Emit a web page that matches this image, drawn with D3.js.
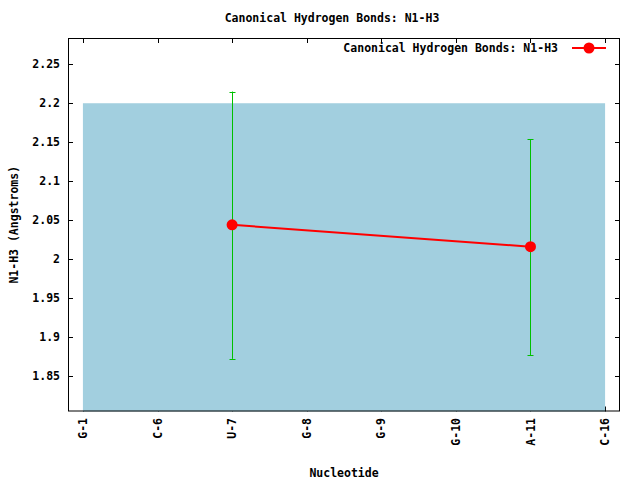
<!DOCTYPE html>
<html>
<head>
<meta charset="utf-8">
<script src="https://cdn.jsdelivr.net/npm/d3@7"></script>
<style>
  html, body { margin: 0; padding: 0; background: #fff; }
  svg text { font-family: "DejaVu Sans Mono", "Liberation Mono", monospace; font-weight: bold; font-size: 11.5px; fill: #000; }
</style>
</head>
<body>
<svg id="chart" width="640" height="480"></svg>
<script>
// ---- data ----
const categories = ["G-1", "C-6", "U-7", "G-8", "G-9", "G-10", "A-11", "C-16"];
const pointCategories = ["U-7", "A-11"];
const pointValues = [2.044, 2.016];
const errLow = [1.872, 1.877];
const errHigh = [2.215, 2.154];
const yTicks = [1.85, 1.9, 1.95, 2.0, 2.05, 2.1, 2.15, 2.2, 2.25];
const yTickLabels = ["1.85", "1.9", "1.95", "2", "2.05", "2.1", "2.15", "2.2", "2.25"];
const bandTop = 2.2;
const titleText = "Canonical Hydrogen Bonds: N1-H3";
const seriesName = "Canonical Hydrogen Bonds: N1-H3";
const xTitle = "Nucleotide";
const yTitle = "N1-H3 (Angstroms)";

// ---- layout ----
const L = 68, R = 620, T = 38, B = 411.5;
const svg = d3.select("#chart");

const x = d3.scaleLinear().domain([-0.2, categories.length - 1 + 0.2]).range([L, R]);
const y = d3.scaleLinear().domain([1.8045, 2.2837]).range([B, T]);
const xi = c => x(categories.indexOf(c));

// ticks (drawn first, band covers bottom ones)
const tickLen = 5;
const tk = svg.append("g").attr("stroke", "#000").attr("stroke-width", 1);
categories.forEach((c, i) => {
  const px = Math.round(x(i)) + 0.5;
  tk.append("line").attr("x1", px).attr("x2", px).attr("y1", B).attr("y2", B - tickLen);
  tk.append("line").attr("x1", px).attr("x2", px).attr("y1", T).attr("y2", T + tickLen);
});
yTicks.forEach(v => {
  const py = Math.round(y(v)) + 0.5;
  tk.append("line").attr("x1", L).attr("x2", L + tickLen).attr("y1", py).attr("y2", py);
  tk.append("line").attr("x1", R).attr("x2", R - tickLen).attr("y1", py).attr("y2", py);
});

// light-blue band
svg.append("rect")
  .attr("x", x(0)).attr("y", y(bandTop))
  .attr("width", x(categories.length - 1) - x(0))
  .attr("height", B - y(bandTop))
  .attr("fill", "#a2cfdf");

// frame
svg.append("rect").attr("x", L + 0.5).attr("y", T + 0.5)
  .attr("width", R - L - 1).attr("height", B - T - 1)
  .attr("fill", "none").attr("stroke", "#000").attr("stroke-width", 1);

// y tick labels
svg.append("g").selectAll("text").data(yTicks).join("text")
  .attr("x", 60).attr("y", v => y(v)).attr("dy", "0.35em")
  .attr("text-anchor", "end")
  .text((v, i) => yTickLabels[i]);

// x tick labels (rotated)
svg.append("g").selectAll("text").data(categories).join("text")
  .attr("transform", (c, i) => `translate(${x(i)},418) rotate(-90)`)
  .attr("dy", "0.35em")
  .attr("text-anchor", "end")
  .text(c => c);

// titles
svg.append("text").attr("x", 332).attr("y", 18).attr("dy", "0.35em")
  .attr("text-anchor", "middle").text(titleText);
svg.append("text").attr("x", (L + R) / 2).attr("y", 473).attr("dy", "0.35em")
  .attr("text-anchor", "middle").text(xTitle);
svg.append("text").attr("transform", `translate(14,${(T + B) / 2}) rotate(-90)`)
  .attr("dy", "0.35em").attr("text-anchor", "middle").text(yTitle);

// error bars
const eb = svg.append("g").attr("stroke", "#00c000").attr("stroke-width", 1);
pointCategories.forEach((c, i) => {
  const px = Math.round(xi(c)) + 0.5;
  eb.append("line").attr("x1", px).attr("x2", px).attr("y1", y(errLow[i])).attr("y2", y(errHigh[i]));
  [errLow[i], errHigh[i]].forEach(v => {
    const py = Math.round(y(v)) + 0.5;
    eb.append("line").attr("x1", px - 3).attr("x2", px + 3).attr("y1", py).attr("y2", py);
  });
});

// line
const line = d3.line().x((d, i) => xi(pointCategories[i])).y(d => y(d));
svg.append("path").datum(pointValues).attr("d", line)
  .attr("fill", "none").attr("stroke", "#ff0000").attr("stroke-width", 2);

// points
svg.append("g").selectAll("circle").data(pointValues).join("circle")
  .attr("cx", (d, i) => xi(pointCategories[i])).attr("cy", d => y(d))
  .attr("r", 5.5).attr("fill", "#ff0000");

// legend
const ly = 48;
svg.append("text").attr("x", 558).attr("y", ly).attr("dy", "0.35em")
  .attr("text-anchor", "end").text(seriesName);
svg.append("line").attr("x1", 572).attr("x2", 606).attr("y1", ly).attr("y2", ly)
  .attr("stroke", "#ff0000").attr("stroke-width", 2);
svg.append("circle").attr("cx", 589).attr("cy", ly).attr("r", 5.5).attr("fill", "#ff0000");
</script>
</body>
</html>
